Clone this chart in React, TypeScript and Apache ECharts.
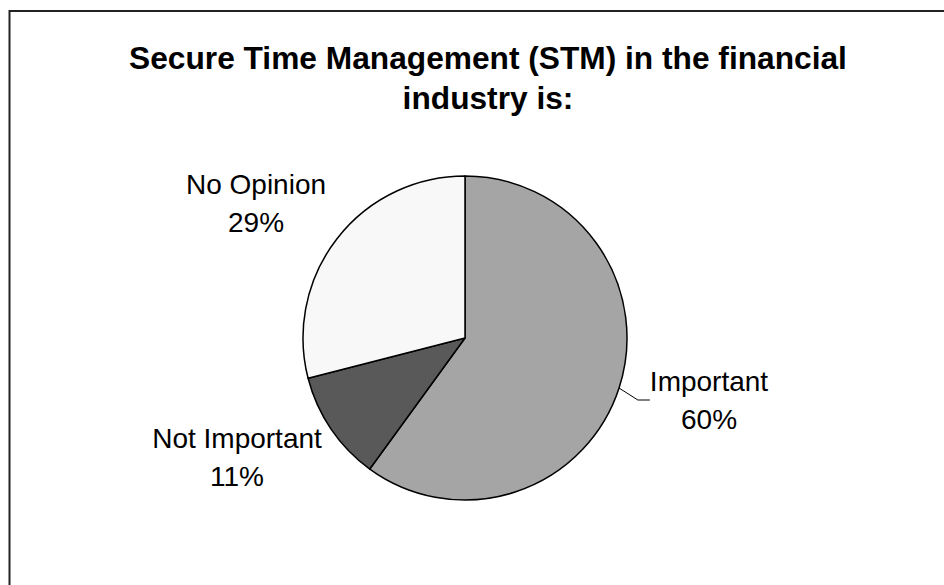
import React, { useEffect, useRef } from "react";
import * as echarts from "echarts";

const titleLines = ["Secure Time Management (STM) in the financial", "industry is:"];
const categories = ["Important", "Not Important", "No Opinion"];
const percents = [60, 11, 29];
const sliceColors = ["#a5a5a5", "#595959", "#f8f8f8"];
const labelSpots: [number, number][] = [
  [709, 400],
  [237, 457],
  [256, 203],
];

const FONT = "'Liberation Sans', Arial, sans-serif";

export default function App() {
  const ref = useRef<HTMLDivElement>(null);
  useEffect(() => {
    document.body.style.margin = "0";
    const chart = echarts.init(ref.current!, undefined, { renderer: "svg" });
    chart.setOption({
      animation: false,
      backgroundColor: "#ffffff",
      title: {
        text: titleLines.join("\n"),
        left: 483,
        textAlign: "center",
        top: 33,
        textStyle: {
          fontFamily: FONT,
          fontSize: 31.7,
          fontWeight: "bold",
          color: "#000",
          lineHeight: 40,
        },
      },
      graphic: [
        {
          type: "rect",
          shape: { x: 9.5, y: 11, width: 1000, height: 1000 },
          style: { fill: "none", stroke: "#222", lineWidth: 2 },
          silent: true,
        },
      ],
      series: [
        {
          type: "pie",
          center: [465, 338],
          radius: 162,
          startAngle: 90,
          clockwise: true,
          avoidLabelOverlap: false,
          itemStyle: { borderColor: "#000", borderWidth: 1.5 },
          label: {
            show: true,
            position: "outside",
            formatter: "{b}\n{c}%",
            fontFamily: FONT,
            fontSize: 28,
            lineHeight: 38,
            color: "#000",
            align: "center",
          },
          labelLine: {
            show: true,
            length: 12,
            length2: 12,
            lineStyle: { color: "#000", width: 1 },
          },
          labelLayout: (p: any) => ({
            x: labelSpots[p.dataIndex][0],
            y: labelSpots[p.dataIndex][1],
            align: "center",
            verticalAlign: "middle",
          }),
          emphasis: { disabled: true },
          data: categories.map((name, i) => ({
            name,
            value: percents[i],
            itemStyle: { color: sliceColors[i] },
            labelLine: { show: i === 0 },
          })),
        },
      ],
    });
    return () => chart.dispose();
  }, []);
  return (
    <div
      ref={ref}
      style={{ position: "fixed", left: 0, top: 0, width: 944, height: 585 }}
    />
  );
}
